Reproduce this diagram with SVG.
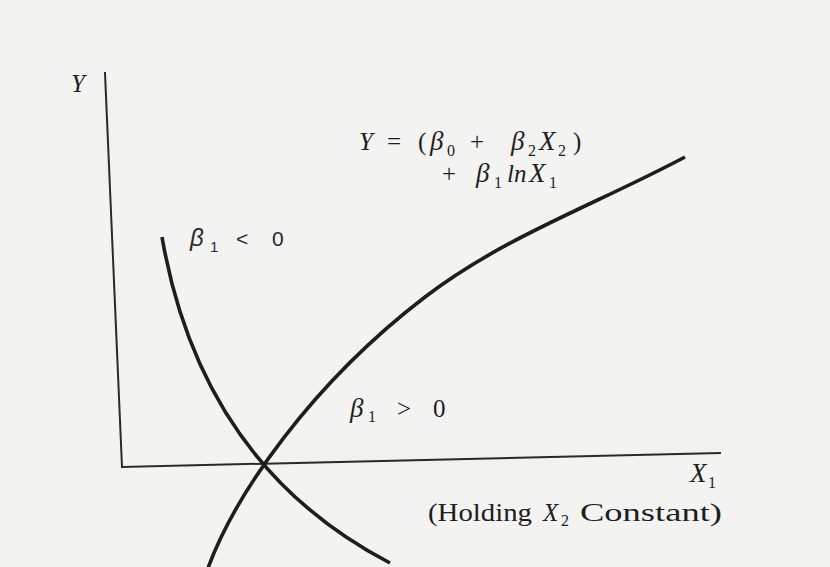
<svg xmlns="http://www.w3.org/2000/svg" width="830" height="567" viewBox="0 0 830 567">
<style>
.bg{fill:#f3f3f1}
.axis{fill:none;stroke:#2a2a2a;stroke-width:2;stroke-linecap:square}
.curve{fill:none;stroke:#1e1e1e;stroke-width:3.6;stroke-linecap:butt}
.t{font-family:"Liberation Serif","Times New Roman",serif;fill:#1e1e1e;font-size:25px}
.s{font-family:"Liberation Sans",Arial,sans-serif;fill:#2a2a2a;font-size:21px}
.i{font-style:italic}
.sub{font-size:16px}
.g{font-size:27px}
</style>
<rect class="bg" x="0" y="0" width="830" height="567"/>
<g id="connectors">
  <path id="y-axis" class="axis" d="M105,73 L122,467"/>
  <path id="x-axis" class="axis" d="M122,467 L720,453"/>
  <path id="curve-positive" class="curve" d="M208,568 C235,495 310,385 425,297 C505,236 595,205 685,157"/>
  <path id="curve-negative" class="curve" d="M162,237 C185,370 250,490 390,563"/>
</g>
<g id="label-y">
  <text class="t i" x="71" y="92">Y</text>
</g>
<g id="equation">
  <text class="t" y="150"><tspan class="i" x="359">Y</tspan><tspan x="387">=</tspan><tspan x="418">(</tspan><tspan class="i g" x="430">β</tspan><tspan class="sub" x="447" dy="6">0</tspan><tspan x="470" dy="-6">+</tspan><tspan class="i g" x="511">β</tspan><tspan class="sub" x="528" dy="6">2</tspan><tspan class="i g" x="539" dy="-6">X</tspan><tspan class="sub" x="558" dy="6">2</tspan><tspan x="573" dy="-6">)</tspan></text>
  <text class="t" y="182"><tspan x="442">+</tspan><tspan class="i g" x="476">β</tspan><tspan class="sub" x="494" dy="6">1</tspan><tspan class="i" x="507" dy="-6">ln</tspan><tspan class="i g" x="529">X</tspan><tspan class="sub" x="549" dy="6">1</tspan></text>
</g>
<g id="label-negative">
  <text class="s" y="246"><tspan class="i" x="190" font-size="24">β</tspan><tspan x="210" dy="6" font-size="15">1</tspan><tspan x="236" dy="-6">&lt;</tspan><tspan x="272">0</tspan></text>
</g>
<g id="label-positive">
  <text class="t" y="417"><tspan class="i g" x="350">β</tspan><tspan class="sub" x="368" dy="5">1</tspan><tspan x="397" dy="-5">&gt;</tspan><tspan x="433">0</tspan></text>
</g>
<g id="label-x1">
  <text class="t i g" x="690" y="482">X</text>
  <text class="t sub" x="708" y="488">1</text>
</g>
<g id="label-holding">
  <text class="t" x="428" y="521" textLength="104" lengthAdjust="spacingAndGlyphs">(Holding</text>
  <text class="t i" x="543" y="521">X</text>
  <text class="t sub" x="561" y="526">2</text>
  <text class="t" x="580" y="521" textLength="142" lengthAdjust="spacingAndGlyphs">Constant)</text>
</g>
</svg>
